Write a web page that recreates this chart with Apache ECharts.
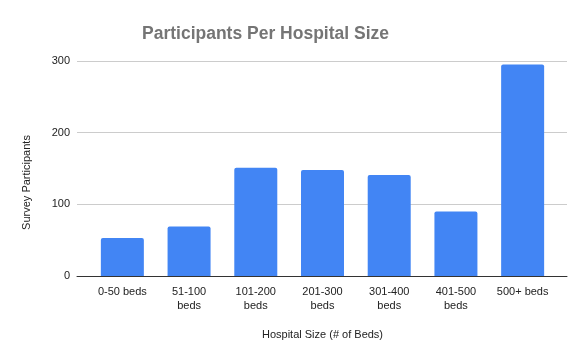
<!DOCTYPE html>
<html><head><meta charset="utf-8">
<script src="https://cdn.jsdelivr.net/npm/echarts@6/dist/echarts.min.js"></script>
<style>html,body{margin:0;padding:0;background:#fff}#c{width:585px;height:361px}</style>
</head><body><div id="c"></div>
<script>
const categories = ["0-50 beds","51-100 beds","101-200 beds","201-300 beds","301-400 beds","401-500 beds","500+ beds"];
const participants = [53, 69, 151, 148, 141, 90, 295];
const yTicks = [0, 100, 200, 300];

const chart = echarts.init(document.getElementById('c'), null, {renderer:'canvas'});
const font = 'Arial, "Liberation Sans", sans-serif';
chart.setOption({
  animation: false,
  title: {
    text: 'Participants Per Hospital Size',
    left: 137, top: 20,
    textStyle: {fontFamily: font, fontSize: 17.5, fontWeight: 'bold', color: '#757575'}
  },
  grid: [
    {left: 77, right: 18, top: 61, bottom: 85},
    {left: 89, right: 29, top: 61, bottom: 85}
  ],
  xAxis: [
    {gridIndex: 0, type: 'value', min: 0, max: 1, show: true,
     axisLine: {show: true, onZero: false, lineStyle: {color: '#333', width: 1}},
     axisTick: {show: false}, axisLabel: {show: false}, splitLine: {show: false}},
    {gridIndex: 1, type: 'category', data: categories,
     axisLine: {show: false}, axisTick: {show: false},
     axisLabel: {interval: 0, margin: 9, fontFamily: font, fontSize: 11, color: '#222', lineHeight: 14,
       formatter: v => v.length > 9 ? v.replace(' ', '\n') : v},
     name: 'Hospital Size (# of Beds)', nameLocation: 'middle', nameGap: 53,
     nameTextStyle: {fontFamily: font, fontSize: 11, color: '#222'}}
  ],
  yAxis: [
    {gridIndex: 0, type: 'value', min: yTicks[0], max: yTicks[yTicks.length-1], interval: 100,
     axisLine: {show: false}, axisTick: {show: false},
     axisLabel: {margin: 7, fontFamily: font, fontSize: 11, color: '#222'},
     splitLine: {lineStyle: {color: '#cccccc', width: 1}},
     name: 'Survey Participants', nameLocation: 'middle', nameGap: 45,
     nameTextStyle: {fontFamily: font, fontSize: 11, color: '#222', padding: [0, 28, 0, 0]}},
    {gridIndex: 1, type: 'value', min: 0, max: 300, show: false}
  ],
  series: [
    {type: 'bar', xAxisIndex: 1, yAxisIndex: 1, data: participants, barWidth: 43,
     itemStyle: {color: '#4285f4', borderRadius: [2,2,0,0]}, z: 1}
  ]
});
</script></body></html>
